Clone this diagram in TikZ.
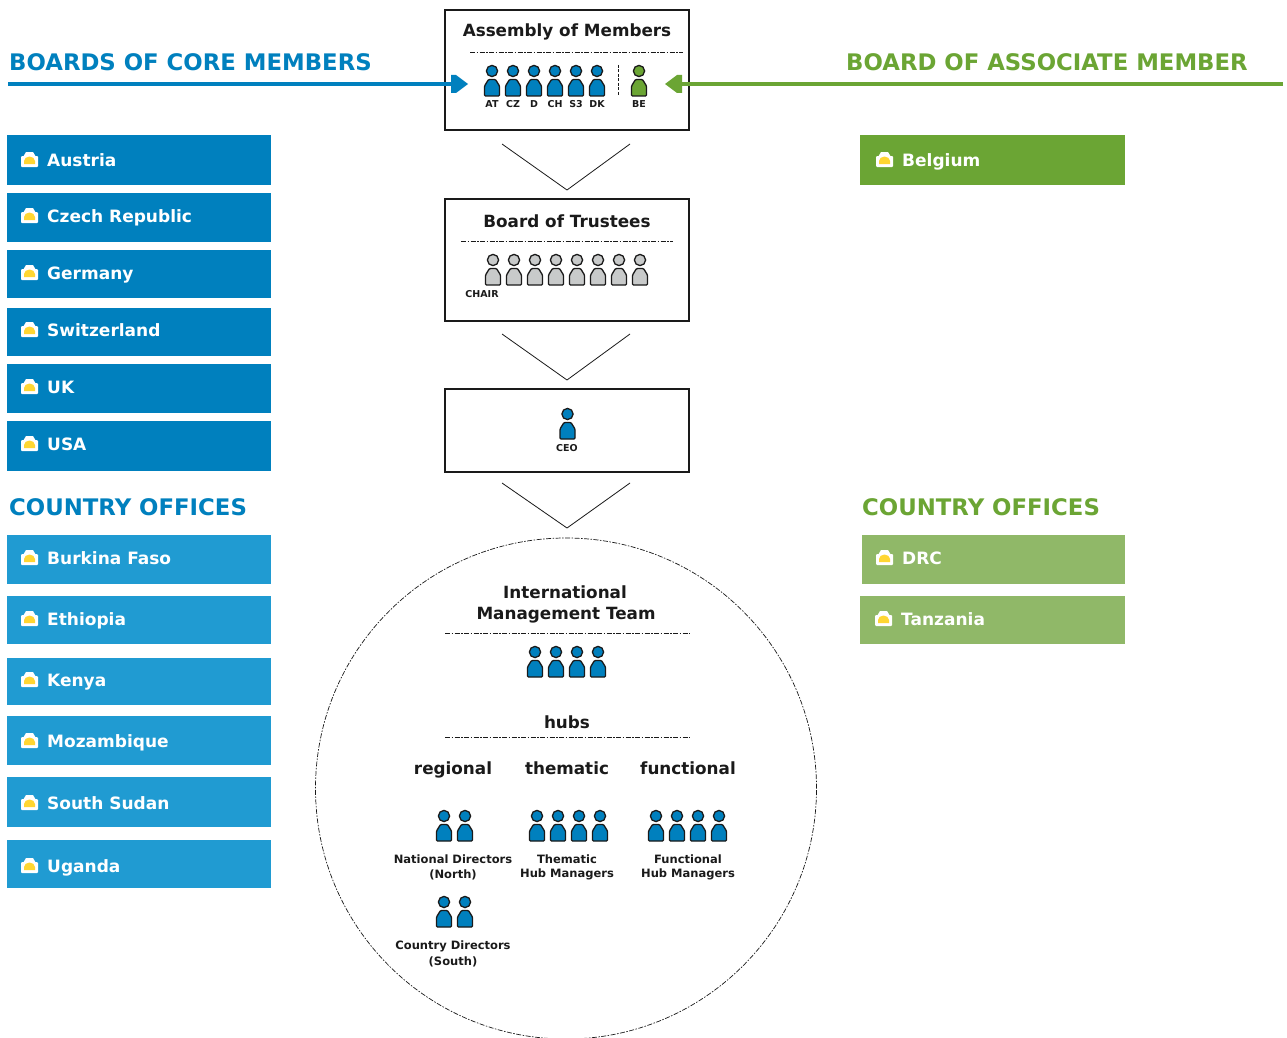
\documentclass[tikz,border=0pt]{standalone}
\usepackage{fontspec}
\setmainfont{DejaVu Sans}
\definecolor{cblue}{HTML}{0080BE}
\definecolor{lblue}{HTML}{209BD2}
\definecolor{cgreen}{HTML}{6BA534}
\definecolor{lgreen}{HTML}{90B868}
\definecolor{pgray}{HTML}{C8CACA}
\definecolor{ink}{HTML}{1A1A1A}
\definecolor{iconyellow}{HTML}{FFD632}
\tikzset{
  x=1pt,y=-1pt,
  bar/.style={inner sep=0pt,outer sep=0pt,anchor=north west},
  bartext/.style={anchor=base west,inner sep=0pt,text=white,font=\fontsize{17}{17}\selectfont\bfseries},
  heading/.style={anchor=base west,inner sep=0pt,font=\fontsize{22.8}{23}\selectfont\bfseries},
  frame/.style={draw=ink,line width=1.2pt,fill=white,inner sep=0pt,outer sep=0pt,anchor=north west},
  title/.style={inner sep=0pt,text=ink,font=\fontsize{16.8}{20}\selectfont\bfseries},
  small/.style={inner sep=0pt,text=ink,font=\fontsize{11.5}{12}\selectfont\bfseries},
  tiny/.style={inner sep=0pt,text=ink,font=\fontsize{9.5}{10}\selectfont\bfseries},
  rule/.style={draw=ink,line width=0.9pt,dash pattern=on 5pt off 1.5pt on 1.5pt off 1.5pt},
  chev/.style={draw=ink,line width=0.8pt},
  person/.pic={
    \fill[pic actions,draw=ink,line width=1.3pt] (0,0) circle (5.6);
    \fill[pic actions,draw=ink,line width=1.3pt,rounded corners=1pt]
      (-7.5,25) -- (-7.5,15) -- (-3.5,8.5) -- (3.5,8.5) -- (7.5,15) -- (7.5,25) -- cycle;
  }
}
% name, x0, y0, x1, y1, colour, text x, baseline y, text
\newcommand{\barbox}[9]{%
  \node[bar,fill=#6,minimum width={(#4-#2)*1pt},minimum height={(#5-#3)*1pt}] (#1) at (#2,#3) {};
  \fill[white,rounded corners=1pt] (#7-26,#8+1) rectangle (#7-9,#8-10);
  \fill[white] (#7-24,#8-9) -- (#7-21,#8-14) -- (#7-14,#8-14) -- (#7-11,#8-9) -- cycle;
  \fill[iconyellow] (#7-23,#8-2) -- (#7-23,#8-5) arc[start angle=180,end angle=360,x radius=5.5,y radius=4.5] -- (#7-12,#8-2) -- cycle;
  \node[bartext] (#1t) at (#7,#8) {#9};
}
\newcommand{\people}[3]{\foreach \px in {#1} {\pic[fill=#3] at (\px,#2) {person};}}
\begin{document}
\begin{tikzpicture}
\useasboundingbox (0,0) rectangle (1287,1038);
\fill[white] (0,0) rectangle (1287,1038);

% headings
\node[heading,text=cblue] (hcore) at (9,71) {BOARDS OF CORE MEMBERS};
\node[heading,text=cgreen] (hassoc) at (846,71) {BOARD OF ASSOCIATE MEMBER};
\node[heading,text=cblue] (hco1) at (9,515) {COUNTRY OFFICES};
\node[heading,text=cgreen] (hco2) at (862,515) {COUNTRY OFFICES};

% boxes
\node[frame,minimum width=244pt,minimum height=120pt] (assembly) at (445,10) {};
\node[frame,minimum width=244pt,minimum height=122pt] (trustees) at (445,199) {};
\node[frame,minimum width=244pt,minimum height=83pt] (ceobox) at (445,389) {};

% arrows
\coordinate (bs) at (8,84);
\coordinate (be) at (468,84);
\coordinate (gs) at (1283,84);
\coordinate (ge) at (665,84);
\draw[cblue,line width=4pt] (bs) -- (452,84);
\fill[cblue] (be) -- (456,75) -- (451,75) -- (451,93) -- (456,93) -- cycle;
\draw[cgreen,line width=4pt] (gs) -- (680,84);
\fill[cgreen] (ge) -- (677,75) -- (682,75) -- (682,93) -- (677,93) -- cycle;

% assembly content
\node[title] (atitle) at (567,32) {Assembly of Members};
\coordinate (a1) at (470,52); \coordinate (a2) at (683,52);
\draw[rule] (a1) -- (a2);
\people{492,513,534,555,576,597}{71}{cblue}
\people{639}{71}{cgreen}
\coordinate (v1) at (618,65); \coordinate (v2) at (618,96);
\draw[draw=ink,line width=0.8pt,dash pattern=on 3pt off 1.5pt] (v1) -- (v2);
\foreach \lx/\lt/\ln in {492/AT/at,513/CZ/cz,534/D/d,555/CH/ch,576/S3/se,597/DK/dk,639/BE/bel}
  \node[tiny] (l\ln) at (\lx,104) {\lt};

% chevrons
\coordinate (c1l) at (502,144); \coordinate (c1m) at (567,190); \coordinate (c1r) at (630,144);
\coordinate (c2l) at (502,334); \coordinate (c2m) at (567,380); \coordinate (c2r) at (630,334);
\coordinate (c3l) at (502,483); \coordinate (c3m) at (567,528); \coordinate (c3r) at (630,483);
\draw[chev] (c1l) -- (c1m) -- (c1r);
\draw[chev] (c2l) -- (c2m) -- (c2r);
\draw[chev] (c3l) -- (c3m) -- (c3r);

% trustees content
\node[title] (ttitle) at (567,221) {Board of Trustees};
\coordinate (t1) at (461,241); \coordinate (t2) at (673,241);
\draw[rule] (t1) -- (t2);
\people{493,514,535,556,577,598,619,640}{260}{pgray}
\node[tiny] (chair) at (482,294) {CHAIR};

% CEO
\people{567.5}{414}{cblue}
\node[tiny] (ceo) at (567,448) {CEO};

% circle
\node[draw=ink,line width=0.7pt,dash pattern=on 5pt off 1.5pt on 1.5pt off 1.5pt,circle,minimum size=501pt,inner sep=0pt,outer sep=0pt] (imt) at (566,788.5) {};

\node[title,align=center] (imt1) at (565,592) {International};
\node[title,align=center] (imt2) at (566,615) {Management Team};
\coordinate (i1) at (445,633); \coordinate (i2) at (690,633);
\draw[rule] (i1) -- (i2);
\people{535,556,577,598}{652}{cblue}

\node[title] (hubs) at (567,722) {hubs};
\coordinate (h1) at (445,737); \coordinate (h2) at (690,737);
\draw[rule] (h1) -- (h2);
\node[title,anchor=base] (reg) at (453,774) {regional};
\node[title,anchor=base] (the) at (567,774) {thematic};
\node[title,anchor=base] (fun) at (688,774) {functional};

\people{444,465}{816}{cblue}
\people{537,558,579,600}{816}{cblue}
\people{656,677,698,719}{816}{cblue}
\people{444,465}{902}{cblue}
\node[small] (nd1) at (453,859) {National Directors};
\node[small] (nd2) at (453,875) {(North)};
\node[small] (th1) at (567,859) {Thematic};
\node[small] (th2) at (567,874) {Hub Managers};
\node[small] (fn1) at (688,859) {Functional};
\node[small] (fn2) at (688,874) {Hub Managers};
\node[small] (cd1) at (453,946) {Country Directors};
\node[small] (cd2) at (453,962) {(South)};

% left bars
\barbox{b1}{7}{135}{271}{185}{cblue}{47}{166}{Austria}
\barbox{b2}{7}{193}{271}{242}{cblue}{47}{222}{Czech Republic}
\barbox{b3}{7}{250}{271}{298}{cblue}{47}{279}{Germany}
\barbox{b4}{7}{308}{271}{356}{cblue}{47}{336}{Switzerland}
\barbox{b5}{7}{364}{271}{413}{cblue}{47}{393}{UK}
\barbox{b6}{7}{421}{271}{471}{cblue}{47}{450}{USA}
\barbox{o1}{7}{535}{271}{584}{lblue}{47}{564}{Burkina Faso}
\barbox{o2}{7}{596}{271}{644}{lblue}{47}{625}{Ethiopia}
\barbox{o3}{7}{658}{271}{705}{lblue}{47}{686}{Kenya}
\barbox{o4}{7}{716}{271}{765}{lblue}{47}{747}{Mozambique}
\barbox{o5}{7}{777}{271}{827}{lblue}{47}{809}{South Sudan}
\barbox{o6}{7}{840}{271}{888}{lblue}{47}{872}{Uganda}
% right bars
\barbox{r1}{860}{135}{1125}{185}{cgreen}{902}{166}{Belgium}
\barbox{r2}{862}{535}{1125}{584}{lgreen}{902}{564}{DRC}
\barbox{r3}{860}{596}{1125}{644}{lgreen}{901}{625}{Tanzania}
\end{tikzpicture}
\end{document}
